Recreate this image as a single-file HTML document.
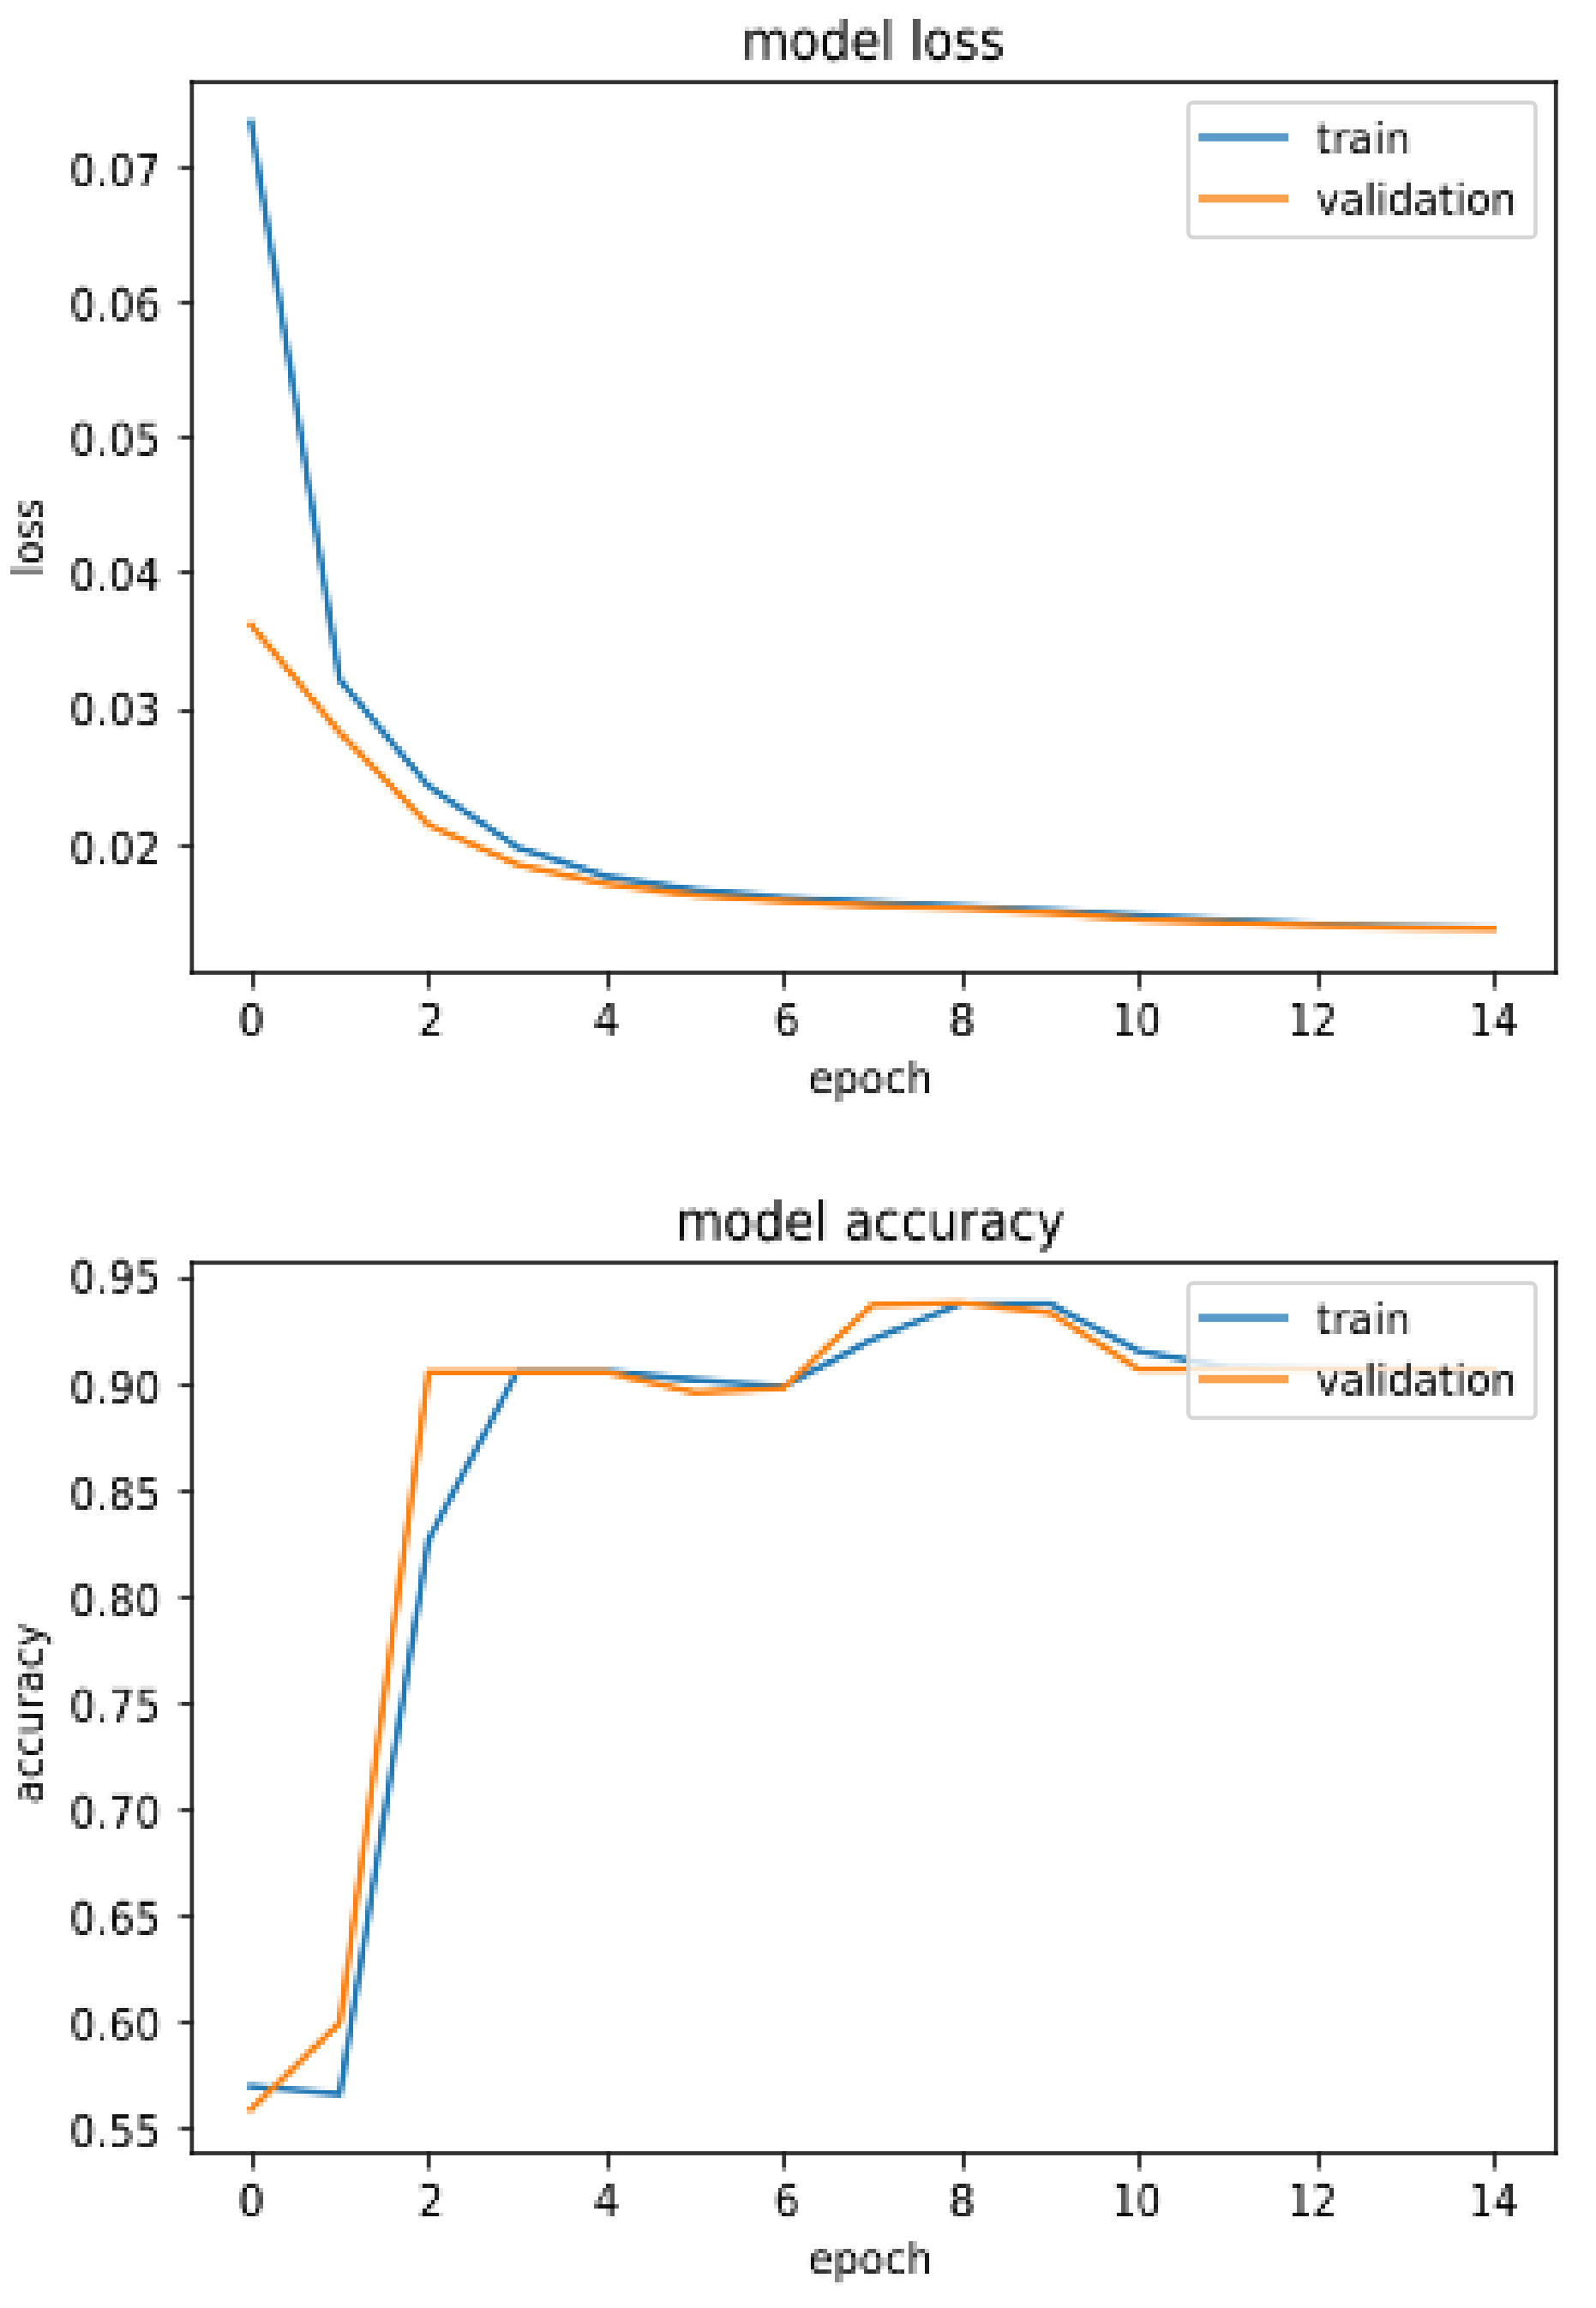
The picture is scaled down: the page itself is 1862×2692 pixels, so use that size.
<!DOCTYPE html>
<html><head><meta charset="utf-8"><title>model loss / model accuracy</title>
<style>
html,body{margin:0;padding:0;background:#fff;}
body{width:1862px;height:2692px;overflow:hidden;}
svg{display:block;}
svg text{font-family:"DejaVu Sans","Liberation Sans",sans-serif;fill:#000000;}
</style></head>
<body>
<svg width="1862" height="2692" viewBox="0 0 1862 2692">
<defs>
<linearGradient id="gx" gradientUnits="userSpaceOnUse" x1="-2.47059" y1="0" x2="2.29412" y2="0" spreadMethod="repeat"><stop offset="0" stop-color="#ff0000"/><stop offset="1" stop-color="#000000"/></linearGradient>
<linearGradient id="gy" gradientUnits="userSpaceOnUse" x1="0" y1="-1.88235" x2="0" y2="2.88235" spreadMethod="repeat"><stop offset="0" stop-color="#00ff00"/><stop offset="1" stop-color="#000000"/></linearGradient>
<filter id="px" filterUnits="userSpaceOnUse" x="0" y="0" width="1862" height="2692" color-interpolation-filters="sRGB">
<feImage href="#charts" x="0" y="0" width="1862" height="2692" result="p"/>
<feConvolveMatrix in="p" order="5" kernelMatrix="0.2025 0.4500 0.4500 0.4500 0.2025 0.4500 1.0000 1.0000 1.0000 0.4500 0.4500 1.0000 1.0000 1.0000 0.4500 0.4500 1.0000 1.0000 1.0000 0.4500 0.2025 0.4500 0.4500 0.4500 0.2025" divisor="15.2100" edgeMode="duplicate" preserveAlpha="true" result="b"/>
<feDisplacementMap in="b" in2="SourceGraphic" scale="4.76471" xChannelSelector="R" yChannelSelector="G" result="d"/>
<feGaussianBlur in="d" stdDeviation="0.55"/>
</filter>
<filter id="soften" filterUnits="userSpaceOnUse" x="0" y="0" width="1862" height="2692" color-interpolation-filters="sRGB"><feGaussianBlur stdDeviation="0.55"/></filter>
</defs>
<g id="charts">
<rect width="1862" height="2692" fill="#ffffff"/>
<g id="loss">
<polyline points="292.8,142.5 396.4,793.0 499.9,917.0 603.5,988.5 707.0,1022.0 810.5,1038.0 914.1,1046.8 1017.7,1052.4 1121.2,1057.2 1224.8,1062.0 1328.3,1068.0 1431.8,1073.4 1535.4,1078.3 1638.9,1080.8 1742.5,1082.7" fill="none" stroke="#1f77b4" stroke-width="7.15" stroke-linejoin="round" stroke-linecap="square"/>
<polyline points="292.8,728.5 396.4,854.5 499.9,962.0 603.5,1008.5 707.0,1031.0 810.5,1044.0 914.1,1051.1 1017.7,1056.6 1121.2,1060.0 1224.8,1064.8 1328.3,1072.6 1431.8,1076.5 1535.4,1080.0 1638.9,1082.0 1742.5,1083.2" fill="none" stroke="#ff7f0e" stroke-width="7.15" stroke-linejoin="round" stroke-linecap="square"/>
<rect x="1386.44" y="119.62" width="405.00" height="157.24" rx="4.764705882352941" fill="#ffffff" fill-opacity="0.8"/>
<text transform="translate(1018.60 69.19) scale(1 1.082)" text-anchor="middle" font-size="57.18">model loss</text>
<text transform="translate(1015.60 1274.66) scale(1 1.06)" text-anchor="middle" font-size="47.65">epoch</text>
<text transform="translate(49.54 627.00) rotate(-90) scale(0.978 1.06)" text-anchor="middle" font-size="47.65">loss</text>
<text transform="translate(293.50 1207.95) scale(1 1.078)" text-anchor="middle" font-size="47.65">0</text>
<text transform="translate(503.00 1207.95) scale(1 1.078)" text-anchor="middle" font-size="47.65">2</text>
<text transform="translate(707.70 1207.95) scale(1 1.078)" text-anchor="middle" font-size="47.65">4</text>
<text transform="translate(918.10 1207.95) scale(1 1.078)" text-anchor="middle" font-size="47.65">6</text>
<text transform="translate(1122.50 1207.95) scale(1 1.078)" text-anchor="middle" font-size="47.65">8</text>
<text transform="translate(1325.90 1207.95) scale(0.95 1.078)" text-anchor="middle" font-size="47.65">10</text>
<text transform="translate(1531.00 1207.95) scale(0.95 1.078)" text-anchor="middle" font-size="47.65">12</text>
<text transform="translate(1742.20 1207.95) scale(0.95 1.078)" text-anchor="middle" font-size="47.65">14</text>
<text transform="translate(187.40 216.89) scale(1 1.078)" text-anchor="end" font-size="47.65">0.07</text>
<text transform="translate(187.40 374.13) scale(1 1.078)" text-anchor="end" font-size="47.65">0.06</text>
<text transform="translate(187.40 531.36) scale(1 1.078)" text-anchor="end" font-size="47.65">0.05</text>
<text transform="translate(187.40 688.60) scale(1 1.078)" text-anchor="end" font-size="47.65">0.04</text>
<text transform="translate(187.40 845.84) scale(1 1.078)" text-anchor="end" font-size="47.65">0.03</text>
<text transform="translate(187.40 1007.84) scale(1 1.078)" text-anchor="end" font-size="47.65">0.02</text>
<text transform="translate(1535.00 178.78) scale(1 1.06)" text-anchor="start" font-size="47.65">train</text>
<text transform="translate(1535.00 250.25) scale(1 1.06)" text-anchor="start" font-size="47.65">validation</text>
</g>
<g id="accuracy">
<polyline points="292.8,2433.5 396.4,2442.5 499.9,1796.0 603.5,1599.3 707.0,1599.3 810.5,1609.5 914.1,1617.0 1017.7,1562.5 1121.2,1520.5 1224.8,1520.5 1328.3,1576.0 1431.8,1594.5 1535.4,1596.0 1638.9,1596.5 1742.5,1596.5" fill="none" stroke="#1f77b4" stroke-width="7.15" stroke-linejoin="round" stroke-linecap="square"/>
<polyline points="292.8,2460.5 396.4,2359.5 499.9,1600.3 603.5,1600.3 707.0,1600.3 810.5,1624.3 914.1,1619.0 1017.7,1522.0 1121.2,1519.8 1224.8,1531.0 1328.3,1597.0 1431.8,1597.0 1535.4,1597.0 1638.9,1597.0 1742.5,1597.0" fill="none" stroke="#ff7f0e" stroke-width="7.15" stroke-linejoin="round" stroke-linecap="square"/>
<rect x="1386.44" y="1496.62" width="405.00" height="157.24" rx="4.764705882352941" fill="#ffffff" fill-opacity="0.8"/>
<text transform="translate(1015.30 1446.19) scale(1 1.082)" text-anchor="middle" font-size="57.18">model accuracy</text>
<text transform="translate(1015.60 2651.66) scale(1 1.06)" text-anchor="middle" font-size="47.65">epoch</text>
<text transform="translate(49.54 1998.60) rotate(-90) scale(0.978 1.06)" text-anchor="middle" font-size="47.65">accuracy</text>
<text transform="translate(293.50 2584.95) scale(1 1.078)" text-anchor="middle" font-size="47.65">0</text>
<text transform="translate(503.00 2584.95) scale(1 1.078)" text-anchor="middle" font-size="47.65">2</text>
<text transform="translate(707.70 2584.95) scale(1 1.078)" text-anchor="middle" font-size="47.65">4</text>
<text transform="translate(918.10 2584.95) scale(1 1.078)" text-anchor="middle" font-size="47.65">6</text>
<text transform="translate(1122.50 2584.95) scale(1 1.078)" text-anchor="middle" font-size="47.65">8</text>
<text transform="translate(1325.90 2584.95) scale(0.95 1.078)" text-anchor="middle" font-size="47.65">10</text>
<text transform="translate(1531.00 2584.95) scale(0.95 1.078)" text-anchor="middle" font-size="47.65">12</text>
<text transform="translate(1742.20 2584.95) scale(0.95 1.078)" text-anchor="middle" font-size="47.65">14</text>
<text transform="translate(187.40 1508.13) scale(1 1.078)" text-anchor="end" font-size="47.65">0.95</text>
<text transform="translate(187.40 1636.78) scale(1 1.078)" text-anchor="end" font-size="47.65">0.90</text>
<text transform="translate(187.40 1760.66) scale(1 1.078)" text-anchor="end" font-size="47.65">0.85</text>
<text transform="translate(187.40 1884.54) scale(1 1.078)" text-anchor="end" font-size="47.65">0.80</text>
<text transform="translate(187.40 2008.42) scale(1 1.078)" text-anchor="end" font-size="47.65">0.75</text>
<text transform="translate(187.40 2132.31) scale(1 1.078)" text-anchor="end" font-size="47.65">0.70</text>
<text transform="translate(187.40 2256.19) scale(1 1.078)" text-anchor="end" font-size="47.65">0.65</text>
<text transform="translate(187.40 2380.07) scale(1 1.078)" text-anchor="end" font-size="47.65">0.60</text>
<text transform="translate(187.40 2503.95) scale(1 1.078)" text-anchor="end" font-size="47.65">0.55</text>
<text transform="translate(1535.00 1555.78) scale(1 1.06)" text-anchor="start" font-size="47.65">train</text>
<text transform="translate(1535.00 1627.25) scale(1 1.06)" text-anchor="start" font-size="47.65">validation</text>
</g>
</g>
<g filter="url(#px)">
<rect x="0" y="0" width="1862" height="2692" fill="url(#gx)"/>
<rect x="0" y="0" width="1862" height="2692" fill="url(#gy)" style="mix-blend-mode:screen"/>
</g>
<g id="frames" filter="url(#soften)">
<rect x="223.85" y="95.79" width="1591.41" height="1038.71" fill="none" stroke="#333333" stroke-width="4.765"/>
<rect x="221.47" y="93.41" width="4.76" height="4.76" fill="#141414"/>
<rect x="221.47" y="1132.12" width="4.76" height="4.76" fill="#141414"/>
<rect x="1812.88" y="93.41" width="4.76" height="4.76" fill="#141414"/>
<rect x="1812.88" y="1132.12" width="4.76" height="4.76" fill="#141414"/>
<rect x="292.94" y="1136.88" width="4.76" height="14.29" fill="#333333"/>
<rect x="292.94" y="1151.18" width="4.76" height="4.76" fill="#999999"/>
<rect x="292.94" y="1132.12" width="4.76" height="4.76" fill="#1f1f1f"/>
<rect x="497.82" y="1136.88" width="4.76" height="14.29" fill="#333333"/>
<rect x="497.82" y="1151.18" width="4.76" height="4.76" fill="#999999"/>
<rect x="497.82" y="1132.12" width="4.76" height="4.76" fill="#1f1f1f"/>
<rect x="707.47" y="1136.88" width="4.76" height="14.29" fill="#333333"/>
<rect x="707.47" y="1151.18" width="4.76" height="4.76" fill="#999999"/>
<rect x="707.47" y="1132.12" width="4.76" height="4.76" fill="#1f1f1f"/>
<rect x="912.35" y="1136.88" width="4.76" height="14.29" fill="#333333"/>
<rect x="912.35" y="1151.18" width="4.76" height="4.76" fill="#999999"/>
<rect x="912.35" y="1132.12" width="4.76" height="4.76" fill="#1f1f1f"/>
<rect x="1122.00" y="1136.88" width="4.76" height="14.29" fill="#333333"/>
<rect x="1122.00" y="1151.18" width="4.76" height="4.76" fill="#999999"/>
<rect x="1122.00" y="1132.12" width="4.76" height="4.76" fill="#1f1f1f"/>
<rect x="1326.88" y="1136.88" width="4.76" height="14.29" fill="#333333"/>
<rect x="1326.88" y="1151.18" width="4.76" height="4.76" fill="#999999"/>
<rect x="1326.88" y="1132.12" width="4.76" height="4.76" fill="#1f1f1f"/>
<rect x="1536.53" y="1136.88" width="4.76" height="14.29" fill="#333333"/>
<rect x="1536.53" y="1151.18" width="4.76" height="4.76" fill="#999999"/>
<rect x="1536.53" y="1132.12" width="4.76" height="4.76" fill="#1f1f1f"/>
<rect x="1741.41" y="1136.88" width="4.76" height="14.29" fill="#333333"/>
<rect x="1741.41" y="1151.18" width="4.76" height="4.76" fill="#999999"/>
<rect x="1741.41" y="1132.12" width="4.76" height="4.76" fill="#1f1f1f"/>
<rect x="211.94" y="193.47" width="9.53" height="4.76" fill="#333333"/>
<rect x="207.18" y="193.47" width="4.76" height="4.76" fill="#999999"/>
<rect x="221.47" y="193.47" width="4.76" height="4.76" fill="#1f1f1f"/>
<rect x="211.94" y="350.71" width="9.53" height="4.76" fill="#333333"/>
<rect x="207.18" y="350.71" width="4.76" height="4.76" fill="#999999"/>
<rect x="221.47" y="350.71" width="4.76" height="4.76" fill="#1f1f1f"/>
<rect x="211.94" y="507.94" width="9.53" height="4.76" fill="#333333"/>
<rect x="207.18" y="507.94" width="4.76" height="4.76" fill="#999999"/>
<rect x="221.47" y="507.94" width="4.76" height="4.76" fill="#1f1f1f"/>
<rect x="211.94" y="665.18" width="9.53" height="4.76" fill="#333333"/>
<rect x="207.18" y="665.18" width="4.76" height="4.76" fill="#999999"/>
<rect x="221.47" y="665.18" width="4.76" height="4.76" fill="#1f1f1f"/>
<rect x="211.94" y="827.18" width="9.53" height="4.76" fill="#333333"/>
<rect x="207.18" y="827.18" width="4.76" height="4.76" fill="#999999"/>
<rect x="221.47" y="827.18" width="4.76" height="4.76" fill="#1f1f1f"/>
<rect x="211.94" y="984.41" width="9.53" height="4.76" fill="#333333"/>
<rect x="207.18" y="984.41" width="4.76" height="4.76" fill="#999999"/>
<rect x="221.47" y="984.41" width="4.76" height="4.76" fill="#1f1f1f"/>
<rect x="1386.44" y="119.62" width="405.00" height="157.24" rx="5.72" fill="none" stroke="#d6d6d6" stroke-width="4.765"/>
<rect x="1398.35" y="155.35" width="104.82" height="9.53" fill="#5a9bc9"/>
<rect x="1398.35" y="226.82" width="104.82" height="9.53" fill="#ffa24f"/>
<rect x="223.85" y="1472.79" width="1591.41" height="1038.71" fill="none" stroke="#333333" stroke-width="4.765"/>
<rect x="221.47" y="1470.41" width="4.76" height="4.76" fill="#141414"/>
<rect x="221.47" y="2509.12" width="4.76" height="4.76" fill="#141414"/>
<rect x="1812.88" y="1470.41" width="4.76" height="4.76" fill="#141414"/>
<rect x="1812.88" y="2509.12" width="4.76" height="4.76" fill="#141414"/>
<rect x="292.94" y="2513.88" width="4.76" height="14.29" fill="#333333"/>
<rect x="292.94" y="2528.18" width="4.76" height="4.76" fill="#999999"/>
<rect x="292.94" y="2509.12" width="4.76" height="4.76" fill="#1f1f1f"/>
<rect x="497.82" y="2513.88" width="4.76" height="14.29" fill="#333333"/>
<rect x="497.82" y="2528.18" width="4.76" height="4.76" fill="#999999"/>
<rect x="497.82" y="2509.12" width="4.76" height="4.76" fill="#1f1f1f"/>
<rect x="707.47" y="2513.88" width="4.76" height="14.29" fill="#333333"/>
<rect x="707.47" y="2528.18" width="4.76" height="4.76" fill="#999999"/>
<rect x="707.47" y="2509.12" width="4.76" height="4.76" fill="#1f1f1f"/>
<rect x="912.35" y="2513.88" width="4.76" height="14.29" fill="#333333"/>
<rect x="912.35" y="2528.18" width="4.76" height="4.76" fill="#999999"/>
<rect x="912.35" y="2509.12" width="4.76" height="4.76" fill="#1f1f1f"/>
<rect x="1122.00" y="2513.88" width="4.76" height="14.29" fill="#333333"/>
<rect x="1122.00" y="2528.18" width="4.76" height="4.76" fill="#999999"/>
<rect x="1122.00" y="2509.12" width="4.76" height="4.76" fill="#1f1f1f"/>
<rect x="1326.88" y="2513.88" width="4.76" height="14.29" fill="#333333"/>
<rect x="1326.88" y="2528.18" width="4.76" height="4.76" fill="#999999"/>
<rect x="1326.88" y="2509.12" width="4.76" height="4.76" fill="#1f1f1f"/>
<rect x="1536.53" y="2513.88" width="4.76" height="14.29" fill="#333333"/>
<rect x="1536.53" y="2528.18" width="4.76" height="4.76" fill="#999999"/>
<rect x="1536.53" y="2509.12" width="4.76" height="4.76" fill="#1f1f1f"/>
<rect x="1741.41" y="2513.88" width="4.76" height="14.29" fill="#333333"/>
<rect x="1741.41" y="2528.18" width="4.76" height="4.76" fill="#999999"/>
<rect x="1741.41" y="2509.12" width="4.76" height="4.76" fill="#1f1f1f"/>
<rect x="211.94" y="1489.47" width="9.53" height="4.76" fill="#333333"/>
<rect x="207.18" y="1489.47" width="4.76" height="4.76" fill="#999999"/>
<rect x="221.47" y="1489.47" width="4.76" height="4.76" fill="#1f1f1f"/>
<rect x="211.94" y="1613.35" width="9.53" height="4.76" fill="#333333"/>
<rect x="207.18" y="1613.35" width="4.76" height="4.76" fill="#999999"/>
<rect x="221.47" y="1613.35" width="4.76" height="4.76" fill="#1f1f1f"/>
<rect x="211.94" y="1737.24" width="9.53" height="4.76" fill="#333333"/>
<rect x="207.18" y="1737.24" width="4.76" height="4.76" fill="#999999"/>
<rect x="221.47" y="1737.24" width="4.76" height="4.76" fill="#1f1f1f"/>
<rect x="211.94" y="1861.12" width="9.53" height="4.76" fill="#333333"/>
<rect x="207.18" y="1861.12" width="4.76" height="4.76" fill="#999999"/>
<rect x="221.47" y="1861.12" width="4.76" height="4.76" fill="#1f1f1f"/>
<rect x="211.94" y="1985.00" width="9.53" height="4.76" fill="#333333"/>
<rect x="207.18" y="1985.00" width="4.76" height="4.76" fill="#999999"/>
<rect x="221.47" y="1985.00" width="4.76" height="4.76" fill="#1f1f1f"/>
<rect x="211.94" y="2108.88" width="9.53" height="4.76" fill="#333333"/>
<rect x="207.18" y="2108.88" width="4.76" height="4.76" fill="#999999"/>
<rect x="221.47" y="2108.88" width="4.76" height="4.76" fill="#1f1f1f"/>
<rect x="211.94" y="2232.76" width="9.53" height="4.76" fill="#333333"/>
<rect x="207.18" y="2232.76" width="4.76" height="4.76" fill="#999999"/>
<rect x="221.47" y="2232.76" width="4.76" height="4.76" fill="#1f1f1f"/>
<rect x="211.94" y="2356.65" width="9.53" height="4.76" fill="#333333"/>
<rect x="207.18" y="2356.65" width="4.76" height="4.76" fill="#999999"/>
<rect x="221.47" y="2356.65" width="4.76" height="4.76" fill="#1f1f1f"/>
<rect x="211.94" y="2480.53" width="9.53" height="4.76" fill="#333333"/>
<rect x="207.18" y="2480.53" width="4.76" height="4.76" fill="#999999"/>
<rect x="221.47" y="2480.53" width="4.76" height="4.76" fill="#1f1f1f"/>
<rect x="1386.44" y="1496.62" width="405.00" height="157.24" rx="5.72" fill="none" stroke="#d6d6d6" stroke-width="4.765"/>
<rect x="1398.35" y="1532.35" width="104.82" height="9.53" fill="#5a9bc9"/>
<rect x="1398.35" y="1603.82" width="104.82" height="9.53" fill="#ffa24f"/>
</g>
</svg>
</body></html>
